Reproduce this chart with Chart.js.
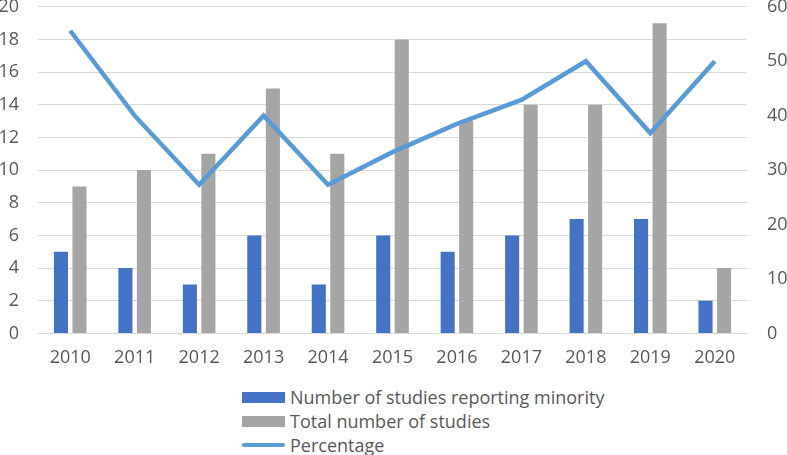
<!DOCTYPE html>
<html>
<head>
<meta charset="utf-8">
<script src="https://cdn.jsdelivr.net/npm/chart.js@4"></script>
<style>
  body { margin: 0; background: #fff; font-family: "Open Sans", sans-serif; overflow: hidden; }
  #wrap { position: relative; width: 787px; height: 455px; overflow: hidden; }
  #chart { position: absolute; left: 0; top: -24px; }
  #legend { position: absolute; left: 242px; top: 385px; font-size: 18px; color: #595959; line-height: 24px; }
  .item { display: flex; align-items: center; }
  .swatch { width: 43px; height: 11px; margin-right: 5px; }
  .lineSwatch { width: 43px; height: 4px; margin-right: 5px; border-radius: 2px; }
</style>
</head>
<body>
<div id="wrap">
  <canvas id="chart" width="787" height="399"></canvas>
  <div id="legend">
    <div class="item"><span class="swatch" style="background:#4472C4"></span>Number of studies reporting minority</div>
    <div class="item"><span class="swatch" style="background:#A5A5A5"></span>Total number of studies</div>
    <div class="item"><span class="lineSwatch" style="background:#5B9BD5"></span>Percentage</div>
  </div>
</div>
<script>
// Données
const years = ['2010', '2011', '2012', '2013', '2014', '2015', '2016', '2017', '2018', '2019', '2020'];
const minorityStudies = [5, 4, 3, 6, 3, 6, 5, 6, 7, 7, 2];
const totalStudies = [9, 10, 11, 15, 11, 18, 13, 14, 14, 19, 4];
const percentage = [55.6, 40, 27.3, 40, 27.3, 33.3, 38.5, 42.9, 50, 36.8, 50];

const tickFont = { size: 18, family: 'Open Sans' };

const ctx = document.getElementById('chart').getContext('2d');
new Chart(ctx, {
    data: {
        labels: years,
        datasets: [
            {
                type: 'line',
                label: 'Percentage',
                data: percentage,
                yAxisID: 'y1',
                borderColor: '#5B9BD5',
                borderWidth: 4.5,
                pointRadius: 0,
                tension: 0,
                order: 0
            },
            {
                type: 'bar',
                label: 'Number of studies reporting minority',
                data: minorityStudies,
                yAxisID: 'y',
                backgroundColor: '#4472C4',
                categoryPercentage: 0.575,
                barPercentage: 0.76,
                order: 1
            },
            {
                type: 'bar',
                label: 'Total number of studies',
                data: totalStudies,
                yAxisID: 'y',
                backgroundColor: '#A5A5A5',
                categoryPercentage: 0.575,
                barPercentage: 0.76,
                order: 2
            }
        ]
    },
    options: {
        responsive: false,
        animation: false,
        layout: { padding: 0 },
        scales: {
            x: {
                grid: { display: false },
                border: { color: '#D9D9D9' },
                ticks: { color: '#595959', font: tickFont, padding: 6 }
            },
            y: {
                min: 0, max: 20,
                ticks: { stepSize: 2, color: '#595959', font: tickFont, padding: 19 },
                grid: { color: '#D9D9D9', drawTicks: false },
                border: { display: false },
                afterFit: (scale) => { scale.width = 38; } // largeur fixe de l'axe gauche
            },
            y1: {
                position: 'right',
                min: 0, max: 60,
                ticks: { stepSize: 10, color: '#595959', font: tickFont, padding: 20 },
                grid: { display: false, drawTicks: false },
                border: { display: false },
                afterFit: (scale) => { scale.width = 40; } // axe droit
            }
        },
        plugins: { legend: { display: false }, tooltip: { enabled: false } }
    }
});
</script>
</body>
</html>
